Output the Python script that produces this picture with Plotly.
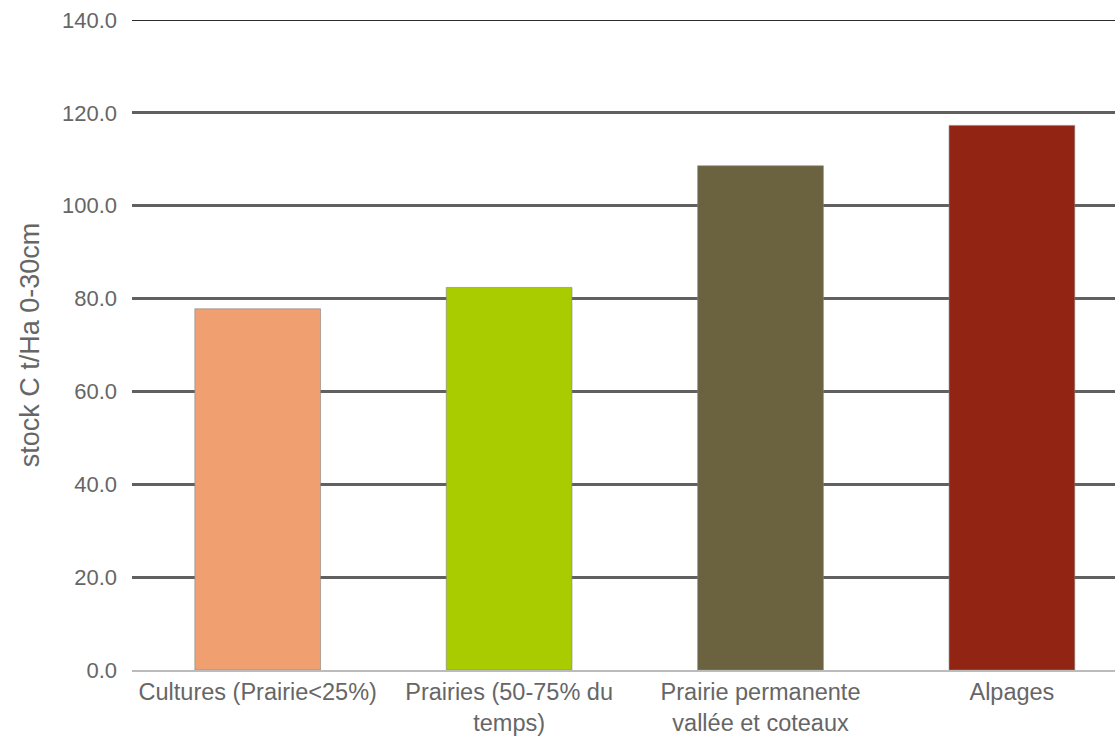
import plotly.graph_objects as go

# Soil carbon stock (t/ha, 0-30 cm) by land use
categories = [
    "Cultures (Prairie<25%)",
    "Prairies (50-75% du<br>temps)",
    "Prairie permanente<br>vallée et coteaux",
    "Alpages",
]
stock_c = [77.8, 82.4, 108.6, 117.3]
bar_colors = ["#F0A070", "#A8CC00", "#6B6340", "#922414"]
y_ticks = [0, 20, 40, 60, 80, 100, 120, 140]
y_tick_labels = ["0.0", "20.0", "40.0", "60.0", "80.0", "100.0", "120.0", "140.0"]

text_color = "#666666"
font_family = "Liberation Sans, Arial, sans-serif"

fig = go.Figure()
fig.add_trace(
    go.Bar(
        x=list(range(len(categories))),
        y=stock_c,
        marker=dict(color=bar_colors, line=dict(color="rgba(130,130,130,0.6)", width=1)),
        width=0.5,
        hoverinfo="skip",
    )
)

# top gridline at the upper end of the value axis
fig.add_shape(
    type="line",
    xref="paper",
    yref="y",
    x0=0,
    x1=1,
    y0=y_ticks[-1],
    y1=y_ticks[-1],
    line=dict(color="#2E2E2E", width=2),
    layer="below",
)

fig.update_layout(
    width=1115,
    height=740,
    margin=dict(l=132, r=0, t=20, b=70),
    paper_bgcolor="white",
    plot_bgcolor="white",
    showlegend=False,
    font=dict(family=font_family, size=22, color=text_color),
    xaxis=dict(
        tickmode="array",
        tickvals=list(range(len(categories))),
        ticktext=categories,
        range=[-0.5, 3.41],
        showgrid=False,
        zeroline=False,
        showline=True,
        linecolor="#BBBBBB",
        linewidth=2,
        ticks="",
        tickfont=dict(size=23.5, color=text_color),
        fixedrange=True,
    ),
    yaxis=dict(
        range=[0, 140],
        tickmode="array",
        tickvals=y_ticks,
        ticktext=y_tick_labels,
        showgrid=True,
        gridcolor="#606060",
        gridwidth=2.5,
        zeroline=False,
        ticks="",
        ticklabelstandoff=14,
        tickfont=dict(size=22, color=text_color),
        title=dict(
            text="stock C t/Ha 0-30cm",
            font=dict(size=27, color=text_color),
            standoff=14,
        ),
        fixedrange=True,
    ),
)

fig.write_html("out.html")
